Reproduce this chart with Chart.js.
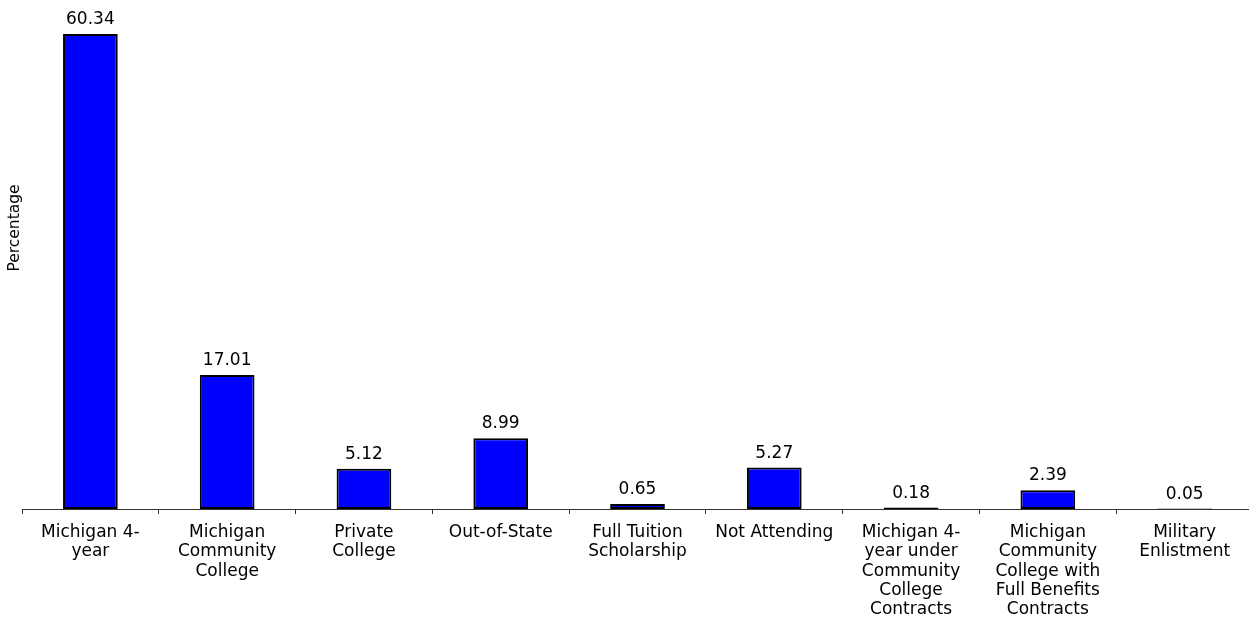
<!DOCTYPE html>
<html>
<head>
<meta charset="utf-8">
<script src="https://cdn.jsdelivr.net/npm/chart.js@4/dist/chart.umd.min.js"></script>
<style>
  body { margin: 0; background: #fff; overflow: hidden; }
  #wrap { width: 1253px; height: 618px; }
</style>
</head>
<body>
<div id="wrap"><canvas id="bar-chart"></canvas></div>
<script>
const categories = [
  ['Michigan 4-', 'year'],
  ['Michigan', 'Community', 'College'],
  ['Private', 'College'],
  ['Out-of-State'],
  ['Full Tuition', 'Scholarship'],
  ['Not Attending'],
  ['Michigan 4-', 'year under', 'Community', 'College', 'Contracts'],
  ['Michigan', 'Community', 'College with', 'Full Benefits', 'Contracts'],
  ['Military', 'Enlistment']
];
const percentages = [60.34, 17.01, 5.12, 8.99, 0.65, 5.27, 0.18, 2.39, 0.05];
const yTitle = 'Percentage';

const valueLabels = {
  id: 'valueLabels',
  afterDatasetsDraw(chart) {
    const ctx = chart.ctx;
    const meta = chart.getDatasetMeta(0);
    ctx.save();
    ctx.font = '17px "DejaVu Sans"';
    ctx.fillStyle = '#000';
    ctx.textAlign = 'center';
    ctx.textBaseline = 'alphabetic';
    meta.data.forEach((bar, i) => {
      ctx.fillText(percentages[i].toFixed(2), bar.x, bar.y - 10);
    });
    // y axis title
    ctx.translate(15, 228);
    ctx.rotate(-Math.PI / 2);
    ctx.textBaseline = 'middle';
    ctx.font = '15.5px "DejaVu Sans"';
    ctx.fillText(yTitle, 0, 0);
    ctx.restore();
  }
};

new Chart(document.getElementById('bar-chart'), {
  type: 'bar',
  data: {
    labels: categories,
    datasets: [{
      data: percentages,
      backgroundColor: '#0000ff',
      borderColor: '#000',
      borderWidth: 2,
      borderSkipped: false,
      categoryPercentage: 1,
      barPercentage: 0.4
    }]
  },
  options: {
    responsive: true,
    maintainAspectRatio: false,
    animation: false,
    layout: { padding: { left: 22, right: 0, top: 0, bottom: 0 } },
    plugins: {
      legend: { display: false },
      tooltip: { enabled: false }
    },
    scales: {
      x: {
        afterFit(scale) { scale.height = 109; },
        grid: {
          display: true,
          drawOnChartArea: false,
          offset: true,
          tickLength: 5,
          color: '#333'
        },
        border: { display: true, color: '#333', width: 1 },
        ticks: {
          color: '#000',
          font: { family: 'DejaVu Sans', size: 17, lineHeight: 1.135 },
          padding: 9,
          maxRotation: 0,
          autoSkip: false
        }
      },
      y: {
        display: false,
        min: 0,
        max: 64.66
      }
    }
  },
  plugins: [valueLabels]
});
</script>
</body>
</html>
